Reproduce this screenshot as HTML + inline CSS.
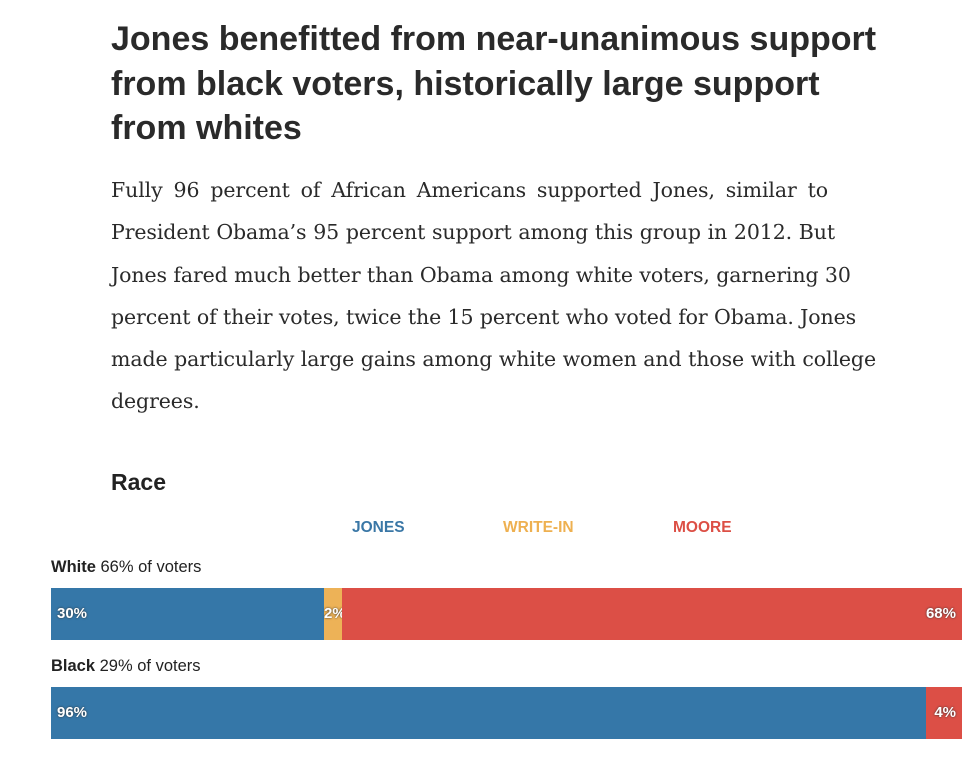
<!DOCTYPE html>
<html><head><style>
body{margin:0;width:980px;height:784px;background:#fff;position:relative;overflow:hidden;font-family:"Liberation Sans",sans-serif;color:#222}
.t{position:absolute;left:111px;top:17px;width:860px;font-size:34px;font-weight:bold;line-height:44.5px;color:#2a2a2a;white-space:nowrap}
.p{position:absolute;left:111px;top:169px;font-family:"DejaVu Serif",serif;font-size:20.5px;line-height:42.3px;color:#2a2a2a}
.p div{white-space:nowrap;text-align:justify;text-align-last:justify;letter-spacing:-0.1px;overflow:visible}
.h{position:absolute;left:111px;top:469px;font-size:23px;font-weight:bold}
.lg{position:absolute;top:519px;font-size:15.5px;font-weight:bold}
.lab{position:absolute;left:51px;font-size:16.5px}
.bar{position:absolute;height:52px}
.v{position:absolute;top:17px;font-size:15px;font-weight:bold;color:#fff;text-shadow:0 0 2px #333}
</style></head><body>
<div class="t">Jones benefitted from near-unanimous support<br>from black voters, historically large support<br>from whites</div>
<div class="p">
<div style="width:717px">Fully 96 percent of African Americans supported Jones, similar to</div>
<div style="width:724px">President Obama’s 95 percent support among this group in 2012. But</div>
<div style="width:732px">Jones fared much better than Obama among white voters, garnering 30</div>
<div style="width:727px">percent of their votes, twice the 15 percent who voted for Obama. Jones</div>
<div style="width:765px">made particularly large gains among white women and those with college</div>
<div style="text-align-last:left">degrees.</div>
</div>
<div class="h">Race</div>
<div class="lg" style="left:352px;color:#3a77a6">JONES</div>
<div class="lg" style="left:503px;color:#eeb050">WRITE-IN</div>
<div class="lg" style="left:673px;color:#dc4f45">MOORE</div>
<div class="lab" style="top:558px"><b>White</b> 66% of voters</div>
<div class="bar" style="top:588px;left:51px;width:273px;background:#3577a8"><span class="v" style="left:6px">30%</span></div>
<div class="bar" style="top:588px;left:324px;width:18px;background:#edb257"><span class="v" style="left:0">2%</span></div>
<div class="bar" style="top:588px;left:342px;width:620px;background:#dc4f46"><span class="v" style="right:6px">68%</span></div>
<div class="lab" style="top:657px"><b>Black</b> 29% of voters</div>
<div class="bar" style="top:687px;left:51px;width:875px;background:#3577a8"><span class="v" style="left:6px">96%</span></div>
<div class="bar" style="top:687px;left:926px;width:36px;background:#dc4f46"><span class="v" style="right:6px">4%</span></div>
</body></html>
